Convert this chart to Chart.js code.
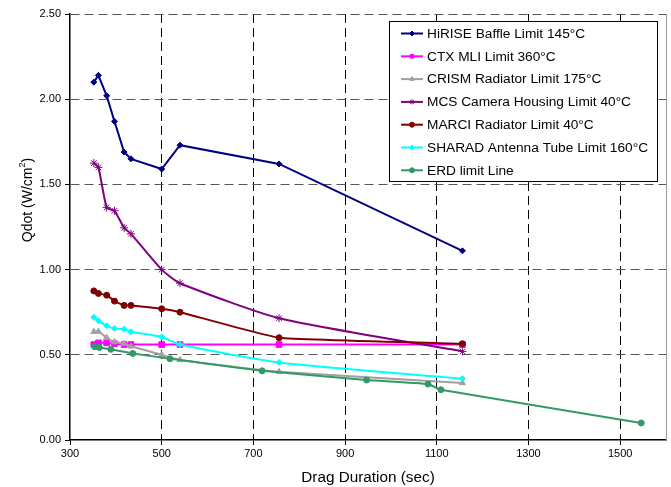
<!DOCTYPE html>
<html>
<head>
<meta charset="utf-8">
<script src="https://cdn.jsdelivr.net/npm/chart.js@4.4.0/dist/chart.umd.min.js"></script>
<style>
  html, body { margin: 0; padding: 0; background: #fff; }
  canvas { display: block; }
</style>
</head>
<body>
<canvas id="qdotChart" width="671" height="487"></canvas>
<script>
// ---------------------------
// Data
// ---------------------------
const durations = [352, 362, 380, 397, 418, 433, 500, 540, 756, 1156];
const hiriseQ = [2.10, 2.14, 2.02, 1.87, 1.69, 1.65, 1.59, 1.73, 1.62, 1.11];
const ctxQ = [0.56, 0.57, 0.57, 0.565, 0.56, 0.56, 0.56, 0.56, 0.56, 0.56];
const crismQ = [0.635, 0.637, 0.60, 0.575, 0.565, 0.55, 0.50, 0.47, 0.40, 0.335];
const mcsQ = [1.625, 1.60, 1.365, 1.345, 1.245, 1.21, 1.00, 0.92, 0.715, 0.52];
const marciQ = [0.875, 0.86, 0.85, 0.815, 0.79, 0.79, 0.77, 0.75, 0.60, 0.565];
const sharadQ = [0.72, 0.70, 0.67, 0.655, 0.65, 0.635, 0.605, 0.56, 0.455, 0.36];
const erdDurations = [354, 364, 389, 437, 518, 719, 947, 1081, 1109, 1546];
const erdQ = [0.547, 0.543, 0.532, 0.508, 0.477, 0.406, 0.352, 0.328, 0.295, 0.10];

const seriesLabels = [
  "HiRISE Baffle Limit 145°C",
  "CTX MLI Limit 360°C",
  "CRISM Radiator Limit 175°C",
  "MCS Camera Housing Limit 40°C",
  "MARCI Radiator Limit 40°C",
  "SHARAD Antenna Tube Limit 160°C",
  "ERD limit Line",
];
const yTicks = [0, 0.5, 1.0, 1.5, 2.0, 2.5];
const xTicks = [300, 500, 700, 900, 1100, 1300, 1500];
const xTitle = "Drag Duration (sec)";
const yTitleParts = ["Qdot (W/cm", "2", ")"]; // "2" is a superscript

const FONT = '"Liberation Sans", Arial, sans-serif';

function pairs(xs, ys) {
  return xs.map((x, i) => ({ x: x, y: ys[i] }));
}

function makeSeries(idx, xs, ys, color, style, radius, tension) {
  return {
    label: seriesLabels[idx],
    data: pairs(xs, ys),
    borderColor: color,
    backgroundColor: color,
    pointBackgroundColor: color,
    pointBorderColor: color,
    pointStyle: style,
    pointRadius: radius,
    pointBorderWidth: 1,
    borderWidth: 2,
    tension: tension,
    order: 10 - idx, // later series on top, like the original
  };
}

const datasets = [
  makeSeries(0, durations, hiriseQ, "#000080", "rectRot", 3, 0),
  makeSeries(1, durations, ctxQ, "#FF00FF", "rect", 4, 0),
  makeSeries(2, durations, crismQ, "#A0A0A0", "triangle", 3.5, 0.15),
  makeSeries(3, durations, mcsQ, "#800080", "star", 4, 0.2),
  makeSeries(4, durations, marciQ, "#800000", "circle", 3, 0.1),
  makeSeries(5, durations, sharadQ, "#00FFFF", "rectRot", 3, 0.2),
  makeSeries(6, erdDurations, erdQ, "#339966", "circle", 3, 0.15),
];

// legend inside the plot area + y title with a real superscript
const extras = {
  id: "extras",
  afterDraw(chart) {
    const c = chart.ctx;
    const a = chart.chartArea;
    c.save();

    // right border of plot area
    c.strokeStyle = "#999";
    c.lineWidth = 1;
    c.beginPath();
    c.moveTo(Math.round(a.right) + 0.5, a.top);
    c.lineTo(Math.round(a.right) + 0.5, a.bottom);
    c.stroke();

    // y axis title, rotated
    c.save();
    c.translate(28, 200);
    c.rotate(-Math.PI / 2);
    c.fillStyle = "#000";
    c.textBaseline = "middle";
    c.font = "14px " + FONT;
    const w1 = c.measureText(yTitleParts[0]).width;
    c.font = "9px " + FONT;
    const w2 = c.measureText(yTitleParts[1]).width;
    c.font = "14px " + FONT;
    const w3 = c.measureText(yTitleParts[2]).width;
    let tx = -(w1 + w2 + w3) / 2;
    c.fillText(yTitleParts[0], tx, 0);
    tx += w1;
    c.font = "9px " + FONT;
    c.fillText(yTitleParts[1], tx, -5);
    tx += w2;
    c.font = "14px " + FONT;
    c.fillText(yTitleParts[2], tx, 0);
    c.restore();

    // legend box
    const x0 = Math.round(a.right) - 277, y0 = Math.round(a.top) + 7;
    const w = 268, h = 160;
    c.fillStyle = "#fff";
    c.fillRect(x0, y0, w, h);
    c.strokeStyle = "#000";
    c.lineWidth = 1;
    c.strokeRect(x0 + 0.5, y0 + 0.5, w, h);
    c.font = "13.7px " + FONT;
    c.textBaseline = "middle";
    chart.data.datasets.forEach((ds, i) => {
      const y = y0 + 12.5 + i * 22.8;
      c.strokeStyle = ds.borderColor;
      c.lineWidth = 2;
      c.beginPath();
      c.moveTo(x0 + 12, y);
      c.lineTo(x0 + 34, y);
      c.stroke();
      c.fillStyle = ds.pointBackgroundColor;
      c.lineWidth = 1;
      Chart.helpers.drawPoint(c, { pointStyle: ds.pointStyle, radius: 2.5, borderWidth: 1, rotation: 0 }, x0 + 23, y);
      c.fillStyle = "#000";
      c.fillText(ds.label, x0 + 38, y + 0.5);
    });
    c.restore();
  },
};

new Chart(document.getElementById("qdotChart"), {
  type: "line",
  data: { datasets: datasets },
  options: {
    responsive: false,
    animation: false,
    layout: { padding: { top: 14, right: 4, left: 0, bottom: 0 } },
    plugins: {
      legend: { display: false },
      tooltip: { enabled: false },
    },
    scales: {
      x: {
        type: "linear",
        min: 300,
        max: 1600,
        afterBuildTicks: (axis) => {
          axis.ticks = xTicks.map((v) => ({ value: v }));
        },
        afterFit: (axis) => { axis.height = 47; },
        grid: {
          // no dashed line on top of the solid y axis
          color: (ctx) => (ctx.tick && ctx.tick.value === 300 ? "rgba(0,0,0,0)" : "#000"),
          lineWidth: 1,
          tickLength: 5,
          tickColor: "#000",
          tickBorderDash: [],
        },
        border: { display: true, color: "#000", width: 1.5, dash: [9, 5] },
        ticks: {
          color: "#000",
          font: { family: FONT, size: 11 },
          padding: 2,
          maxRotation: 0,
          callback: (v) => String(v),
        },
        title: {
          display: true,
          text: xTitle,
          color: "#000",
          font: { family: FONT, size: 15.3 },
          padding: { top: 2, bottom: 0 },
        },
      },
      y: {
        type: "linear",
        min: 0,
        max: 2.5,
        afterBuildTicks: (axis) => {
          axis.ticks = yTicks.map((v) => ({ value: v }));
        },
        afterFit: (axis) => { axis.width = 70; },
        grid: {
          color: (ctx) => (ctx.tick && ctx.tick.value === 0 ? "rgba(0,0,0,0)" : "#555"),
          lineWidth: 1,
          tickLength: 5,
          tickColor: "#000",
          tickBorderDash: [],
        },
        border: { display: true, color: "#000", width: 1.5, dash: [9, 5] },
        ticks: {
          color: "#000",
          font: { family: FONT, size: 11 },
          padding: 4,
          callback: (v) => Number(v).toFixed(2),
        },
      },
    },
  },
  plugins: [extras],
});
</script>
</body>
</html>
